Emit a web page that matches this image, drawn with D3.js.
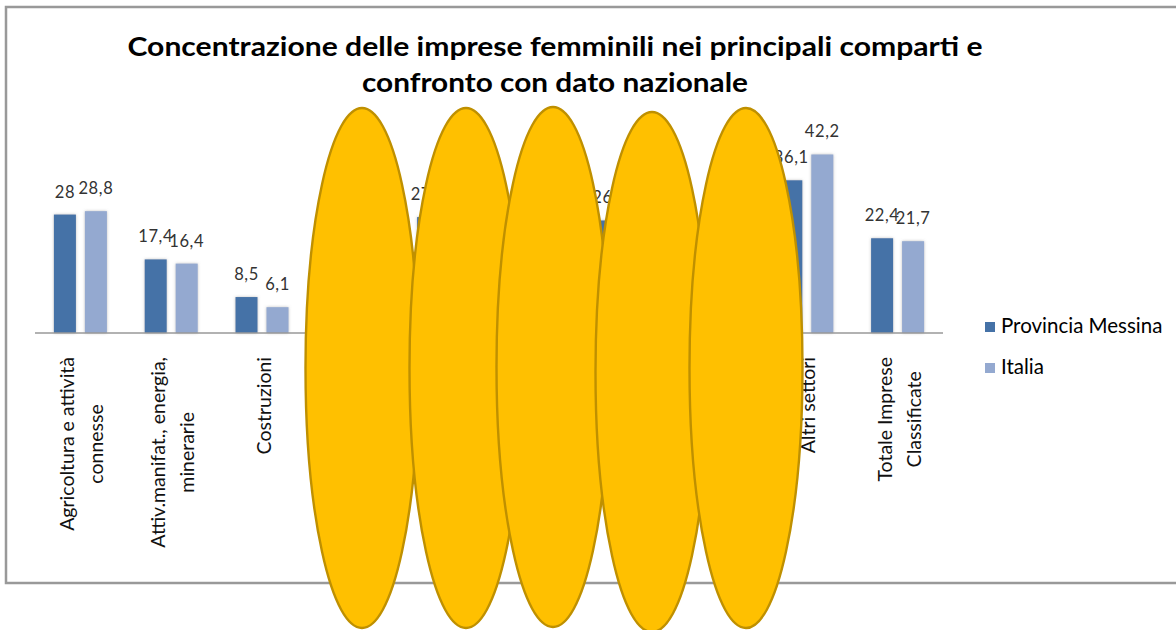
<!DOCTYPE html>
<html>
<head>
<meta charset="utf-8">
<script src="https://cdn.jsdelivr.net/npm/d3@7"></script>
<style>
  body { margin: 0; background: #fff; }
  svg { display: block; }
  text { font-family: Lato, "Open Sans", sans-serif; }
</style>
</head>
<body>
<div id="chart"></div>
<script>
// Chart values (hidden sectors are estimates)
var categories = [
  ["Agricoltura e attività", "connesse"],
  ["Attiv.manifat., energia,", "minerarie"],
  ["Costruzioni"],
  ["Commercio"],
  ["Turismo"],
  ["Trasporti e Spedizioni"],
  ["Assicurazioni e Credito"],
  ["Servizi alle imprese"],
  ["Altri settori"],
  ["Totale Imprese", "Classificate"]
];
var seriesNames = ["Provincia Messina", "Italia"];
var provinciaValues = [28, 17.4, 8.5, 26.3, 27.4, 10.2, 26.6, 18.2, 36.1, 22.4];
var italiaValues = [28.8, 16.4, 6.1, 25.4, 29.5, 9.6, 22.1, 20.1, 42.2, 21.7];
var seriesColors = ["#4572a7", "#94a9d0"];

var titleLines = ["Concentrazione delle imprese femminili nei principali comparti e",
                  "confronto con dato nazionale"];

// Overlay shapes sitting on top of the picture
var blobCenters = [[362, 368], [466, 368], [553, 367], [652, 372], [746, 368]];

var svgWidth = 1176;
var svgHeight = 630;

var svg = d3.select("#chart")
  .append("svg")
  .attr("width", svgWidth)
  .attr("height", svgHeight);

var defs = svg.append("defs");
var glow = defs.append("filter")
  .attr("id", "glow")
  .attr("x", "-30%").attr("y", "-10%")
  .attr("width", "160%").attr("height", "120%");
glow.append("feDropShadow")
  .attr("dx", 0).attr("dy", 0)
  .attr("stdDeviation", 1.6)
  .attr("flood-color", "#888")
  .attr("flood-opacity", 0.55);

// Outer frame
svg.append("rect")
  .attr("x", 6).attr("y", 7)
  .attr("width", 1190).attr("height", 576)
  .attr("fill", "#fff")
  .attr("stroke", "#999")
  .attr("stroke-width", 2.5);

// Title
svg.selectAll(".title")
  .data(titleLines)
  .enter()
  .append("text")
  .attr("class", "title")
  .attr("x", 555)
  .attr("y", (d, i) => 56 + i * 36)
  .attr("text-anchor", "middle")
  .attr("font-size", 26)
  .attr("font-weight", "bold")
  .attr("fill", "#000")
  .attr("textLength", (d, i) => i === 0 ? 855 : 386)
  .attr("lengthAdjust", "spacingAndGlyphs")
  .text(d => d);

// Scales
var baseline = 333;
var x0 = d3.scaleBand()
  .domain(d3.range(categories.length))
  .range([35, 943]);

var x1 = d3.scaleBand()
  .domain(seriesNames)
  .range([0, x0.bandwidth()])
  .paddingInner(0.29)
  .paddingOuter(0.61);

var y = d3.scaleLinear()
  .domain([0, 45])
  .range([baseline, baseline - 45 * 4.23]);

var rows = categories.map((c, i) => ({
  index: i,
  values: [
    { series: seriesNames[0], value: provinciaValues[i], color: seriesColors[0] },
    { series: seriesNames[1], value: italiaValues[i], color: seriesColors[1] }
  ]
}));

var groups = svg.selectAll(".cat")
  .data(rows)
  .enter()
  .append("g")
  .attr("class", "cat")
  .attr("transform", d => `translate(${x0(d.index)},0)`);

groups.selectAll("rect")
  .data(d => d.values)
  .enter()
  .append("rect")
  .attr("x", d => x1(d.series))
  .attr("y", d => y(d.value))
  .attr("width", x1.bandwidth())
  .attr("height", d => baseline - y(d.value))
  .attr("fill", d => d.color)
  .attr("filter", "url(#glow)");

// Value labels
groups.selectAll(".val")
  .data(d => d.values)
  .enter()
  .append("text")
  .attr("class", "val")
  .attr("x", d => x1(d.series) + x1.bandwidth() / 2)
  .attr("y", d => y(d.value) - 17)
  .attr("text-anchor", "middle")
  .attr("font-size", 16.5)
  .attr("letter-spacing", 0.6)
  .attr("fill", "#333")
  .text(d => String(d.value).replace(".", ","));

// Category axis line
svg.append("line")
  .attr("x1", 35).attr("x2", 943)
  .attr("y1", baseline).attr("y2", baseline)
  .attr("stroke", "#999")
  .attr("stroke-width", 1.5);

// Rotated category labels
var lineGap = 29;
categories.forEach(function(lines, i) {
  var cx = x0(i) + x0.bandwidth() / 2;
  var g = svg.append("g")
    .attr("transform", `translate(${cx},0) rotate(-90)`);
  var texts = g.selectAll("text")
    .data(lines)
    .enter()
    .append("text")
    .attr("font-size", 19.5)
    .attr("fill", "#111")
    .attr("text-anchor", "middle")
    .text(d => d);
  var maxW = d3.max(texts.nodes(), n => n.getComputedTextLength());
  texts
    .attr("x", -(357 + maxW / 2))
    .attr("y", (d, k) => -lines.length * lineGap / 2 + k * lineGap + 23);
});

// Legend
var legend = svg.selectAll(".legend")
  .data(seriesNames)
  .enter()
  .append("g")
  .attr("class", "legend")
  .attr("transform", (d, i) => `translate(985, ${322 + i * 41})`);

legend.append("rect")
  .attr("width", 10).attr("height", 10)
  .attr("fill", (d, i) => seriesColors[i]);

legend.append("text")
  .attr("x", 16)
  .attr("y", 11)
  .attr("font-size", 20.5)
  .attr("fill", "#000")
  .text(d => d);

// Yellow overlay ellipses
svg.selectAll(".blob")
  .data(blobCenters)
  .enter()
  .append("ellipse")
  .attr("class", "blob")
  .attr("cx", d => d[0])
  .attr("cy", d => d[1])
  .attr("rx", 56.5)
  .attr("ry", 260)
  .attr("fill", "#ffc000")
  .attr("stroke", "#bf9000")
  .attr("stroke-width", 2.4);
</script>
</body>
</html>
